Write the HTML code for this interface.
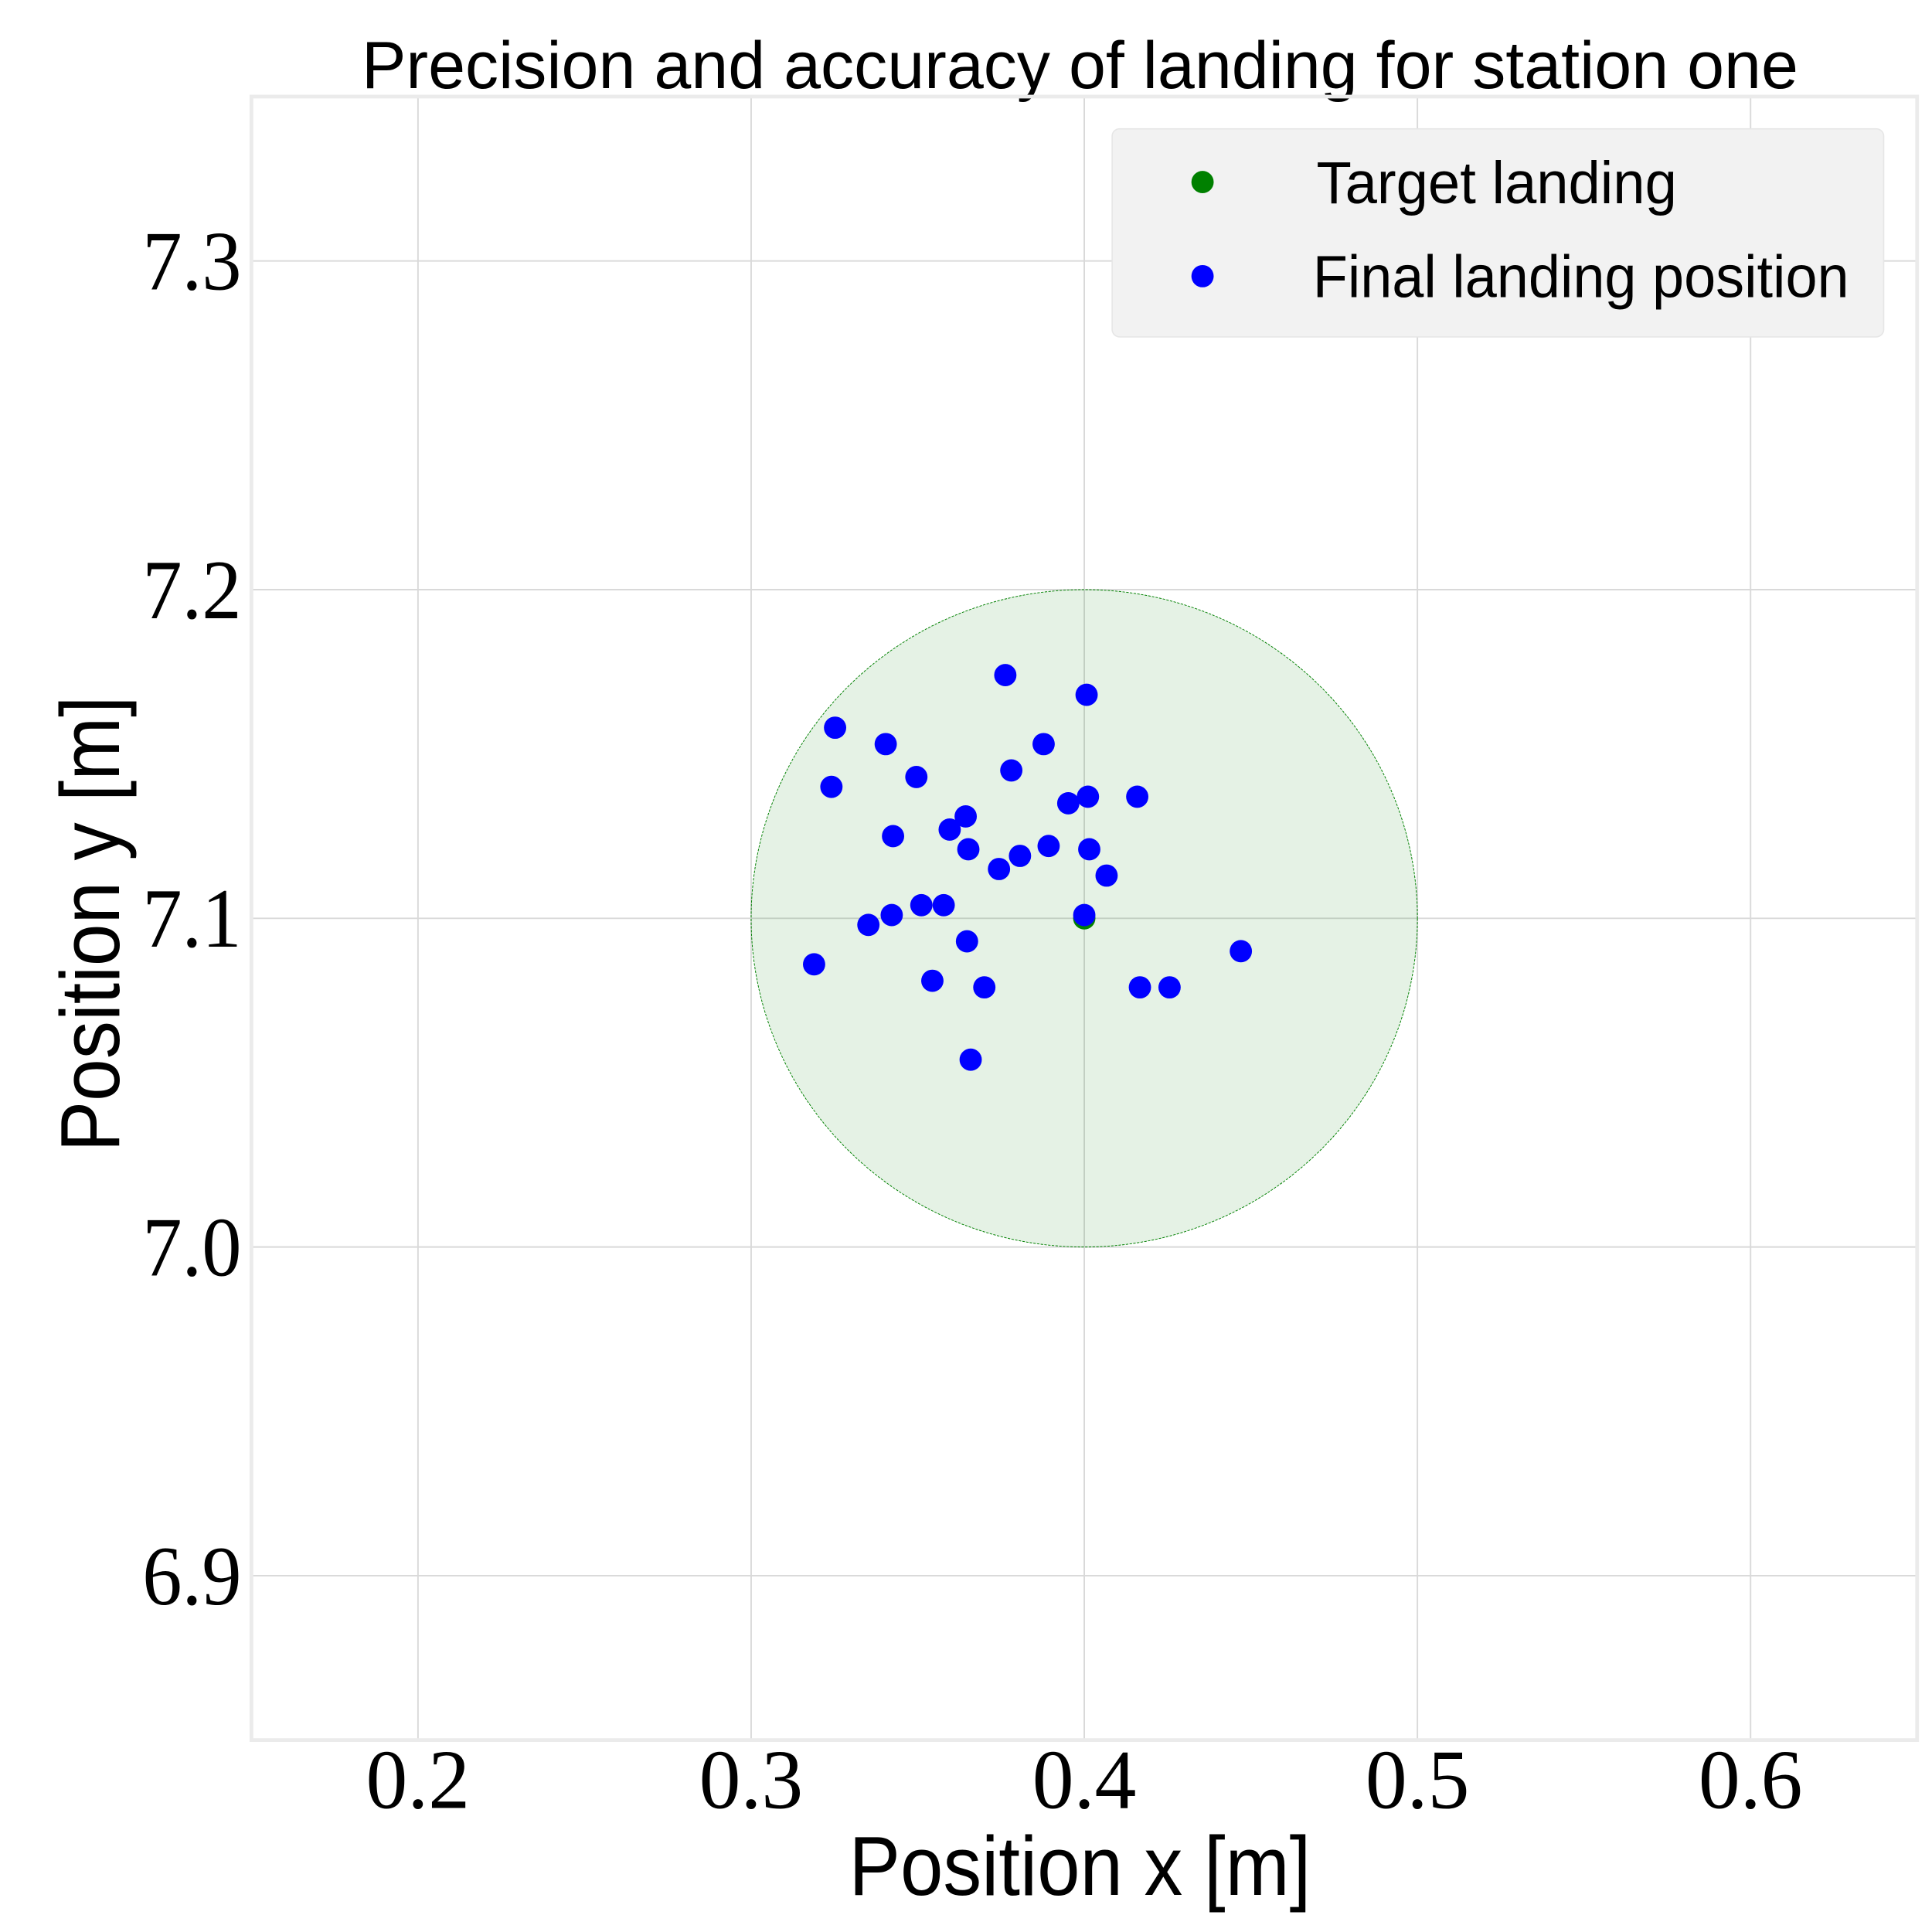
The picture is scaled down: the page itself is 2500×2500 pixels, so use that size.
<!DOCTYPE html>
<html><head><meta charset="utf-8"><style>
html,body{margin:0;padding:0;background:#fff}
svg{display:block}
.tick{font-family:"Liberation Serif",serif;font-size:68px;fill:#000}
.lab{font-family:"Liberation Sans","DejaVu Sans",sans-serif;fill:#000}
</style></head><body>
<svg id="chart" width="2500" height="2500" viewBox="0 0 1560 1560" xmlns="http://www.w3.org/2000/svg">
<text class="lab" x="872" y="71" text-anchor="middle" font-size="54" textLength="1160" lengthAdjust="spacingAndGlyphs">Precision and accuracy of landing for station one</text>
<g id="grid"></g>
<g id="marks"></g>
<rect x="203" y="78" width="1345" height="1327" fill="none" stroke="#ebebeb" stroke-width="3"/>
<g id="ticks"></g>
<text class="lab" x="872" y="1530" text-anchor="middle" font-size="68" textLength="373" lengthAdjust="spacingAndGlyphs">Position x [m]</text>
<text class="lab" transform="translate(96,746) rotate(-90)" text-anchor="middle" font-size="68" textLength="368" lengthAdjust="spacingAndGlyphs">Position y [m]</text>
<g>
<rect x="898" y="104" width="623" height="168" rx="6" fill="#f2f2f2" stroke="#e6e6e6"/>
<circle cx="971" cy="147" r="9" fill="#008000"/>
<text class="lab" x="1063" y="164" font-size="48" textLength="291" lengthAdjust="spacingAndGlyphs">Target landing</text>
<circle cx="971" cy="223" r="9" fill="#0000ff"/>
<text class="lab" x="1060" y="240" font-size="48" textLength="433" lengthAdjust="spacingAndGlyphs">Final landing position</text>
</g>
</svg>
<script>
const xTicks=[0.2,0.3,0.4,0.5,0.6];
const yTicks=[6.9,7.0,7.1,7.2,7.3];
const xTickLabels=["0.2","0.3","0.4","0.5","0.6"];
const yTickLabels=["6.9","7.0","7.1","7.2","7.3"];
const target=[0.4,7.1];
const targetRadius=0.1;
const finalX=[0.3763,0.4007,0.3252,0.3404,0.3878,0.3781,0.3496,0.3241,0.4011,0.4159,0.3952,0.3644,0.3596,0.3426,0.3652,0.3893,0.4015,0.3807,0.3744,0.4067,0.3511,0.3578,0.3422,0.4000,0.3352,0.3648,0.4470,0.3189,0.3544,0.3700,0.4167,0.4256,0.3659];
const finalY=[7.174,7.168,7.158,7.153,7.153,7.145,7.143,7.140,7.137,7.137,7.135,7.131,7.127,7.125,7.121,7.122,7.121,7.119,7.115,7.113,7.104,7.104,7.101,7.101,7.098,7.093,7.090,7.086,7.081,7.079,7.079,7.079,7.057];
const NS="http://www.w3.org/2000/svg";
const X0=203,X1=1548,Y0=78,Y1=1405,xmin=0.15,xmax=0.65,ymin=6.85,ymax=7.35;
function sx(v){return X0+(v-xmin)/(xmax-xmin)*(X1-X0);}
function sy(v){return Y1-(v-ymin)/(ymax-ymin)*(Y1-Y0);}
function mk(tag,attrs,parent){const e=document.createElementNS(NS,tag);for(const k in attrs)e.setAttribute(k,attrs[k]);parent.appendChild(e);return e;}
const grid=document.getElementById('grid'),marks=document.getElementById('marks'),ticks=document.getElementById('ticks');
xTicks.forEach((t,i)=>{
 const l=mk('line',{x1:sx(t),x2:sx(t),y1:Y0,y2:Y1,stroke:'#d9d9d9','stroke-width':1.2},grid);
 
 
 const tx=mk('text',{x:sx(t),y:1460,'text-anchor':'middle',class:'tick',textLength:84,lengthAdjust:'spacingAndGlyphs'},ticks);
 tx.textContent=xTickLabels[i];
 
 
});
yTicks.forEach((t,i)=>{
 const l=mk('line',{x1:X0,x2:X1,y1:sy(t),y2:sy(t),stroke:'#d9d9d9','stroke-width':1.2},grid);
 
 
 const tx=mk('text',{x:195,y:sy(t)+23,'text-anchor':'end',class:'tick',textLength:80,lengthAdjust:'spacingAndGlyphs'},ticks);
 tx.textContent=yTickLabels[i];
 
 
});
const rx=Math.abs(sx(target[0]+targetRadius)-sx(target[0])),ry=Math.abs(sy(target[1]+targetRadius)-sy(target[1]));
const c=mk('ellipse',{cx:sx(target[0]),cy:sy(target[1]),rx:rx,ry:ry,fill:'rgba(0,128,0,0.1)',stroke:'#008000','stroke-width':0.6,'stroke-dasharray':'2,1'},marks);


const tp=mk('circle',{cx:sx(target[0]),cy:sy(target[1]),r:9,fill:'#008000'},marks);


finalX.forEach((x,i)=>{
 const p=mk('circle',{cx:sx(x),cy:sy(finalY[i]),r:9,fill:'#0000ff'},marks);
 
 
});
</script>
</body></html>
